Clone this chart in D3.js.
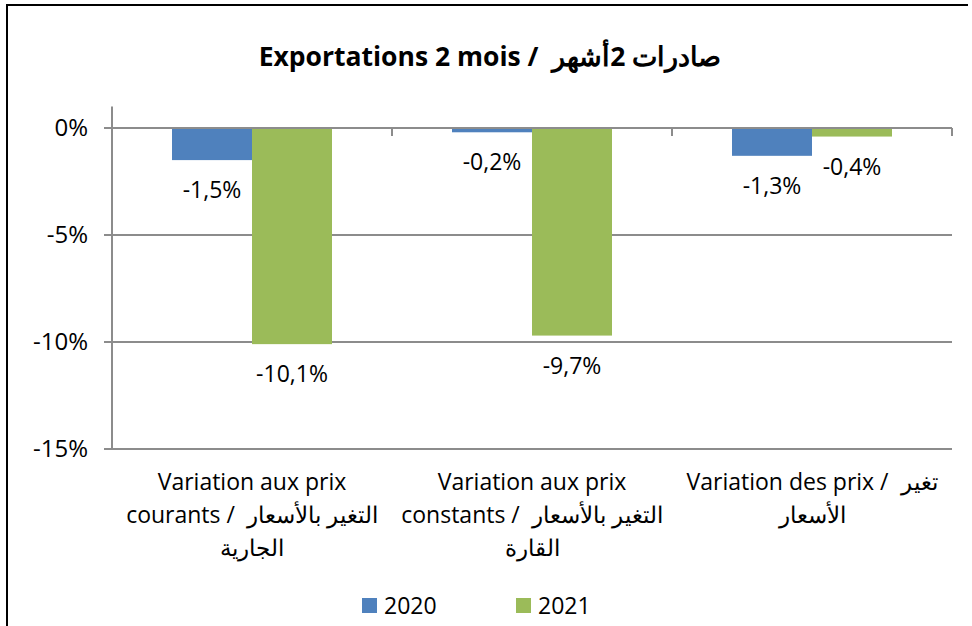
<!DOCTYPE html>
<html>
<head>
<meta charset="utf-8">
<script src="https://cdn.jsdelivr.net/npm/d3@7"></script>
<style>
  body { margin: 0; background: #fff; }
  text { font-family: "Open Sans", sans-serif; fill: #000; white-space: pre; }
</style>
</head>
<body>
<div id="chart"></div>
<script>
var categories = [
  ["Variation aux prix", "courants /  التغير بالأسعار", "الجارية"],
  ["Variation aux prix", "constants /  التغير بالأسعار", "القارة"],
  ["Variation des prix /  تغير", "الأسعار"]
];
var series = ["2020", "2021"];
var values2020 = [-1.5, -0.2, -1.3];
var values2021 = [-10.1, -9.7, -0.4];
var yTicks = [0, -5, -10, -15];
var colors = ["#4F81BD", "#9BBB59"];
var title = "Exportations 2 mois /  صادرات 2أشهر";

var W = 972, H = 626;
var margin = {top: 128, right: 20, bottom: 177, left: 112};

var svg = d3.select("#chart")
  .append("svg")
    .attr("width", W)
    .attr("height", H);

// outer frame (right and bottom edges are cut off in the original)
svg.append("path")
  .attr("d", "M7,626 V5 H968")
  .attr("fill", "none")
  .attr("stroke", "#000")
  .attr("stroke-width", 2);

var idx = d3.range(categories.length);

var x = d3.scaleBand()
  .domain(idx)
  .range([margin.left, W - margin.right]);

var x1 = d3.scaleBand()
  .domain(series)
  .range([0, x.bandwidth()])
  .paddingOuter(0.75)
  .paddingInner(0);

var y = d3.scaleLinear()
  .domain([-15, 0])
  .range([H - margin.bottom, margin.top]);

// gridlines
svg.append("g")
  .selectAll("line")
  .data(yTicks)
  .enter().append("line")
    .attr("x1", margin.left - 8)
    .attr("x2", x.range()[1])
    .attr("y1", function (d) { return y(d); })
    .attr("y2", function (d) { return y(d); })
    .attr("stroke", "#8c8c8c")
    .attr("stroke-width", 2);

// y labels
svg.append("g")
  .selectAll("text")
  .data(yTicks)
  .enter().append("text")
    .attr("x", 88)
    .attr("y", function (d) { return y(d) + 8; })
    .attr("text-anchor", "end")
    .style("font-size", "24px")
    .text(function (d) { return d + "%"; });

// vertical axis
svg.append("line")
  .attr("x1", margin.left).attr("x2", margin.left)
  .attr("y1", y(1)).attr("y2", y(-15))
  .attr("stroke", "#8c8c8c")
  .attr("stroke-width", 2);

// category ticks on zero line
svg.append("g")
  .selectAll("line")
  .data(idx.concat([categories.length]))
  .enter().append("line")
    .attr("x1", function (d) { return d < categories.length ? x(d) : x.range()[1]; })
    .attr("x2", function (d) { return d < categories.length ? x(d) : x.range()[1]; })
    .attr("y1", y(0))
    .attr("y2", y(0) + 8)
    .attr("stroke", "#8c8c8c")
    .attr("stroke-width", 2);

var data = [];
idx.forEach(function (i) {
  data.push({cat: i, s: "2020", v: values2020[i], c: colors[0]});
  data.push({cat: i, s: "2021", v: values2021[i], c: colors[1]});
});

svg.append("g")
  .selectAll("rect")
  .data(data)
  .enter().append("rect")
    .attr("x", function (d) { return x(d.cat) + x1(d.s); })
    .attr("y", y(0))
    .attr("width", x1.bandwidth())
    .attr("height", function (d) { return y(d.v) - y(0); })
    .attr("fill", function (d) { return d.c; });

// redraw zero line over bars
svg.append("line")
  .attr("x1", margin.left).attr("x2", x.range()[1])
  .attr("y1", y(0)).attr("y2", y(0))
  .attr("stroke", "#8c8c8c")
  .attr("stroke-width", 2);

// data labels
svg.append("g")
  .selectAll("text")
  .data(data)
  .enter().append("text")
    .attr("x", function (d) { return x(d.cat) + x1(d.s) + x1.bandwidth() / 2; })
    .attr("y", function (d) { return y(d.v) + 38; })
    .attr("text-anchor", "middle")
    .style("font-size", "23px")
    .text(function (d) { return String(d.v).replace(".", ",") + "%"; });

// category labels
idx.forEach(function (i) {
  var g = svg.append("text")
    .attr("text-anchor", "middle")
    .style("font-size", "23px");
  categories[i].forEach(function (line, k) {
    g.append("tspan")
      .attr("x", x(i) + x.bandwidth() / 2)
      .attr("y", 490 + k * 33)
      .text(line);
  });
});

// title
svg.append("text")
  .attr("x", 490)
  .attr("y", 66)
  .attr("text-anchor", "middle")
  .style("font-size", "26.5px")
  .style("font-weight", "bold")
  .text(title);

// legend
var leg = svg.append("g");
var legX = [362, 516];
series.forEach(function (s, i) {
  leg.append("rect")
    .attr("x", legX[i]).attr("y", 598)
    .attr("width", 15).attr("height", 15)
    .attr("fill", colors[i]);
  leg.append("text")
    .attr("x", legX[i] + 22)
    .attr("y", 614)
    .style("font-size", "23px")
    .text(s);
});
</script>
</body>
</html>
